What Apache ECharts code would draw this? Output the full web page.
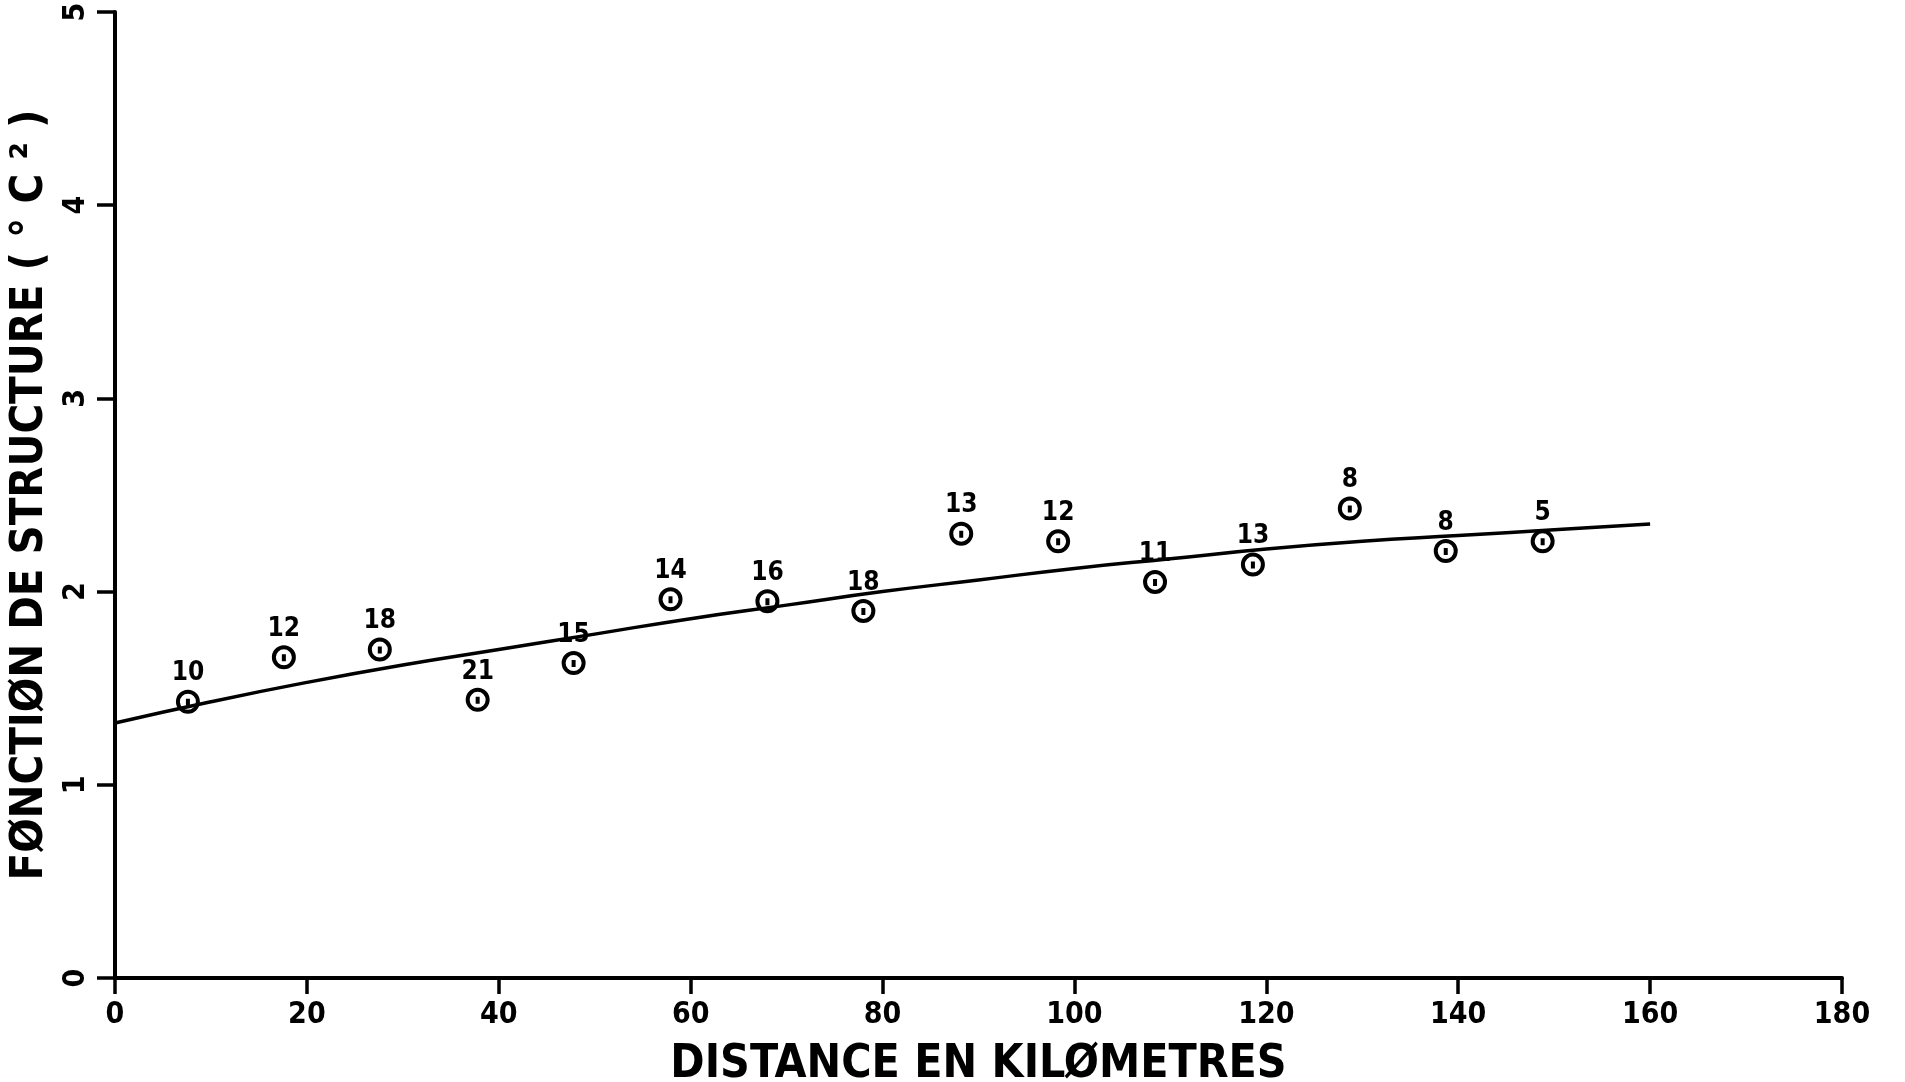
<!DOCTYPE html>
<html>
<head>
<meta charset="utf-8">
<script src="https://cdn.jsdelivr.net/npm/echarts@6/dist/echarts.min.js"></script>
<style>
html,body{margin:0;padding:0;background:#fff;}
#chart{width:1905px;height:1082px;}
</style>
</head>
<body>
<div id="chart"></div>
<script>
// Observed points: distance (km), structure function (°C²), number of pairs
var distances = [7.6, 17.6, 27.6, 37.8, 47.8, 57.9, 68.0, 78.0, 88.2, 98.3, 108.4, 118.6, 128.7, 138.7, 148.8];
var structureValues = [1.43, 1.66, 1.70, 1.44, 1.63, 1.96, 1.95, 1.90, 2.30, 2.26, 2.05, 2.14, 2.43, 2.21, 2.26];
var pairCounts = [10, 12, 18, 21, 15, 14, 16, 18, 13, 12, 11, 13, 8, 8, 5];

// Fitted curve
var curveX = [0, 10, 20, 30, 40, 50, 60, 70, 80, 90, 100, 110, 120, 130, 140, 150, 160];
var curveY = [1.32, 1.43, 1.53, 1.62, 1.70, 1.78, 1.86, 1.93, 2.00, 2.06, 2.12, 2.17, 2.22, 2.26, 2.29, 2.32, 2.35];

var xTicks = [0, 20, 40, 60, 80, 100, 120, 140, 160, 180];
var yTicks = [0, 1, 2, 3, 4, 5];

var xTitle = 'DISTANCE EN KILØMETRES';
var yTitle = 'FØNCTIØN DE STRUCTURE ( ° C ² )';

var pointData = distances.map(function (d, i) { return [d, structureValues[i], pairCounts[i]]; });
var curveData = curveX.map(function (d, i) { return [d, curveY[i]]; });

var FONT = '"DejaVu Sans Condensed", "Liberation Sans Narrow", "DejaVu Sans", sans-serif';

var chart = echarts.init(document.getElementById('chart'));
chart.setOption({
  animation: false,
  backgroundColor: '#ffffff',
  grid: { left: 115, right: 63, top: 12, bottom: 104, containLabel: false, outerBoundsMode: 'none' },
  xAxis: {
    type: 'value',
    min: xTicks[0], max: xTicks[xTicks.length - 1], interval: 20,
    splitLine: { show: false },
    axisLine: { show: true, onZero: false, lineStyle: { color: '#000', width: 4 } },
    axisTick: { show: true, inside: false, length: 16, lineStyle: { color: '#000', width: 3.5 } },
    axisLabel: { color: '#000', fontFamily: FONT, fontWeight: 'bold', fontSize: 30, margin: 22 },
    name: xTitle,
    nameLocation: 'middle',
    nameGap: 64,
    nameTextStyle: { color: '#000', fontFamily: FONT, fontWeight: 'bold', fontSize: 46 }
  },
  yAxis: {
    type: 'value',
    min: yTicks[0], max: yTicks[yTicks.length - 1], interval: 1,
    splitLine: { show: false },
    axisLine: { show: true, onZero: false, lineStyle: { color: '#000', width: 4 } },
    axisTick: { show: true, inside: false, length: 18, lineStyle: { color: '#000', width: 3.5 } },
    axisLabel: { color: '#000', fontFamily: FONT, fontWeight: 'bold', fontSize: 30, rotate: 90, margin: 24 },
    name: yTitle,
    nameLocation: 'middle',
    nameRotate: 90,
    nameGap: 60,
    nameTextStyle: { color: '#000', fontFamily: FONT, fontWeight: 'bold', fontSize: 45 }
  },
  series: [
    {
      type: 'line',
      data: curveData,
      smooth: true,
      showSymbol: false,
      lineStyle: { color: '#000', width: 3.5 },
      z: 2
    },
    {
      type: 'scatter',
      data: pointData,
      symbol: 'path://M10,0 A10,10 0 1,1 -10,0 A10,10 0 1,1 10,0 Z M0,-3 L0,4',
      symbolSize: 20,
      itemStyle: { color: 'rgba(0,0,0,0)', borderColor: '#000', borderWidth: 4, opacity: 1 },
      label: {
        show: true,
        position: 'top',
        distance: 3,
        color: '#000',
        fontFamily: FONT,
        fontWeight: 'bold',
        fontSize: 26,
        formatter: function (p) { return String(p.value[2]); }
      },
      z: 3
    }
  ]
});
</script>
</body>
</html>
